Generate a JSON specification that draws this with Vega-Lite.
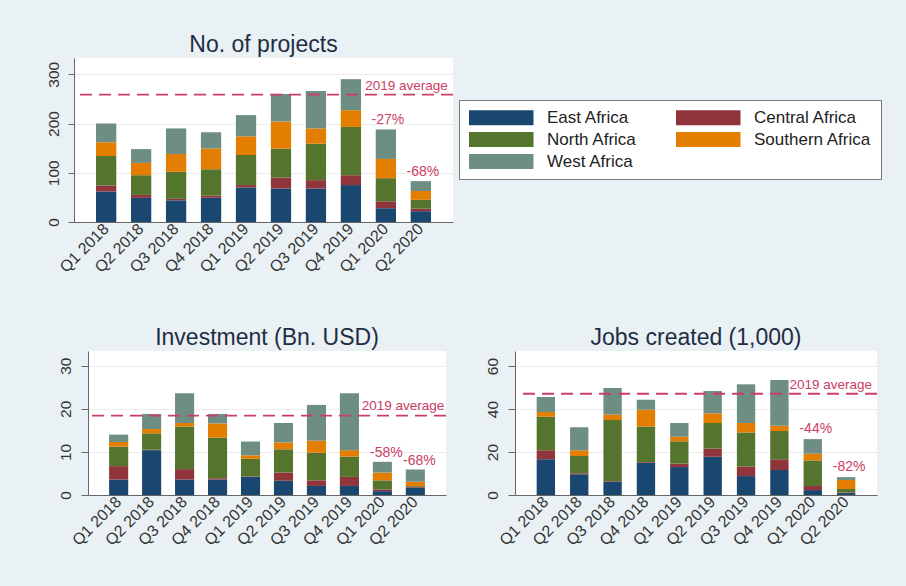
{
  "$schema": "https://vega.github.io/schema/vega-lite/v6.json",
  "background": "#e9f1f4",
  "padding": {"left": 45, "top": 34, "right": 30, "bottom": 40},
  "spacing": 51,
  "config": {
    "font": "Liberation Sans",
    "view": {"fill": "white", "stroke": null},
    "axis": {"labelFont": "Liberation Sans", "labelFontSize": 16, "labelColor": "#333333", "domainColor": "#666666", "tickColor": "#666666", "gridColor": "#ececec"},
    "axisY": {"labelFontSize": 15.5},
    "title": {"fontSize": 23, "fontWeight": "normal", "color": "#1f2d44", "offset": 1, "font": "Liberation Sans"}
  },
  "datasets": {
    "regions": [
      {"q":"Q1 2018","region":"East Africa","projects":62,"investment":3.6,"jobs":16.6},
      {"q":"Q1 2018","region":"Central Africa","projects":12,"investment":3.1,"jobs":4.2},
      {"q":"Q1 2018","region":"North Africa","projects":60,"investment":4.5,"jobs":15.6},
      {"q":"Q1 2018","region":"Southern Africa","projects":28,"investment":1.1,"jobs":2.2},
      {"q":"Q1 2018","region":"West Africa","projects":38,"investment":1.7,"jobs":7.0},
      {"q":"Q2 2018","region":"East Africa","projects":49,"investment":10.4,"jobs":9.6},
      {"q":"Q2 2018","region":"Central Africa","projects":6,"investment":0.1,"jobs":0.5},
      {"q":"Q2 2018","region":"North Africa","projects":40,"investment":3.8,"jobs":8.0},
      {"q":"Q2 2018","region":"Southern Africa","projects":25,"investment":1.0,"jobs":2.7},
      {"q":"Q2 2018","region":"West Africa","projects":28,"investment":3.5,"jobs":10.7},
      {"q":"Q3 2018","region":"East Africa","projects":44,"investment":3.6,"jobs":6.2},
      {"q":"Q3 2018","region":"Central Africa","projects":3,"investment":2.4,"jobs":0.3},
      {"q":"Q3 2018","region":"North Africa","projects":55,"investment":9.9,"jobs":28.4},
      {"q":"Q3 2018","region":"Southern Africa","projects":36,"investment":0.8,"jobs":2.5},
      {"q":"Q3 2018","region":"West Africa","projects":52,"investment":6.9,"jobs":12.4},
      {"q":"Q4 2018","region":"East Africa","projects":49,"investment":3.6,"jobs":15.0},
      {"q":"Q4 2018","region":"Central Africa","projects":5,"investment":0.3,"jobs":0.3},
      {"q":"Q4 2018","region":"North Africa","projects":53,"investment":9.4,"jobs":16.6},
      {"q":"Q4 2018","region":"Southern Africa","projects":42,"investment":3.3,"jobs":7.8},
      {"q":"Q4 2018","region":"West Africa","projects":33,"investment":2.2,"jobs":4.6},
      {"q":"Q1 2019","region":"East Africa","projects":70,"investment":4.2,"jobs":13.0},
      {"q":"Q1 2019","region":"Central Africa","projects":5,"investment":0.1,"jobs":1.6},
      {"q":"Q1 2019","region":"North Africa","projects":61,"investment":4.1,"jobs":10.4},
      {"q":"Q1 2019","region":"Southern Africa","projects":38,"investment":0.8,"jobs":2.1},
      {"q":"Q1 2019","region":"West Africa","projects":43,"investment":3.2,"jobs":6.4},
      {"q":"Q2 2019","region":"East Africa","projects":68,"investment":3.3,"jobs":17.8},
      {"q":"Q2 2019","region":"Central Africa","projects":22,"investment":1.9,"jobs":3.8},
      {"q":"Q2 2019","region":"North Africa","projects":59,"investment":5.4,"jobs":11.9},
      {"q":"Q2 2019","region":"Southern Africa","projects":55,"investment":1.6,"jobs":4.5},
      {"q":"Q2 2019","region":"West Africa","projects":56,"investment":4.5,"jobs":10.4},
      {"q":"Q3 2019","region":"East Africa","projects":68,"investment":2.1,"jobs":8.8},
      {"q":"Q3 2019","region":"Central Africa","projects":17,"investment":1.3,"jobs":4.4},
      {"q":"Q3 2019","region":"North Africa","projects":74,"investment":6.4,"jobs":15.9},
      {"q":"Q3 2019","region":"Southern Africa","projects":31,"investment":2.8,"jobs":4.4},
      {"q":"Q3 2019","region":"West Africa","projects":76,"investment":8.3,"jobs":18.0},
      {"q":"Q4 2019","region":"East Africa","projects":75,"investment":2.1,"jobs":11.6},
      {"q":"Q4 2019","region":"Central Africa","projects":20,"investment":2.1,"jobs":5.0},
      {"q":"Q4 2019","region":"North Africa","projects":98,"investment":4.7,"jobs":13.2},
      {"q":"Q4 2019","region":"Southern Africa","projects":34,"investment":1.5,"jobs":2.4},
      {"q":"Q4 2019","region":"West Africa","projects":63,"investment":13.2,"jobs":21.3},
      {"q":"Q1 2020","region":"East Africa","projects":28,"investment":0.9,"jobs":2.3},
      {"q":"Q1 2020","region":"Central Africa","projects":14,"investment":0.4,"jobs":1.9},
      {"q":"Q1 2020","region":"North Africa","projects":47,"investment":2.1,"jobs":11.9},
      {"q":"Q1 2020","region":"Southern Africa","projects":39,"investment":1.8,"jobs":3.1},
      {"q":"Q1 2020","region":"West Africa","projects":60,"investment":2.5,"jobs":6.8},
      {"q":"Q2 2020","region":"East Africa","projects":22,"investment":1.7,"jobs":0.9},
      {"q":"Q2 2020","region":"Central Africa","projects":5,"investment":0.2,"jobs":0.3},
      {"q":"Q2 2020","region":"North Africa","projects":18,"investment":0.2,"jobs":1.6},
      {"q":"Q2 2020","region":"Southern Africa","projects":18,"investment":1.0,"jobs":4.2},
      {"q":"Q2 2020","region":"West Africa","projects":20,"investment":2.8,"jobs":1.3}
    ],
    "avg": [{"projects": 258.5, "investment": 18.4, "jobs": 47.1}],
    "pct": [
      {"q":"Q1 2020","projects":188,"projects_label":"-27%","investment":7.7,"investment_label":"-58%","jobs":26.0,"jobs_label":"-44%"},
      {"q":"Q2 2020","projects":83,"projects_label":"-68%","investment":5.9,"investment_label":"-68%","jobs":8.3,"jobs_label":"-82%"}
    ]
  },
  "vconcat": [
    {
      "width": 379,
      "height": 164,
      "title": "No. of projects",
      "layer": [
        {
          "data": {"name": "regions"},
          "transform": [{"calculate": "indexof(['East Africa','Central Africa','North Africa','Southern Africa','West Africa'], datum.region)", "as": "stack_order"}],
          "mark": {"type": "bar"},
          "encoding": {
            "x": {"field": "q", "type": "nominal", "title": null,
              "scale": {"domain": ["Q1 2018","Q2 2018","Q3 2018","Q4 2018","Q1 2019","Q2 2019","Q3 2019","Q4 2019","Q1 2020","Q2 2020"], "paddingInner": 0.42, "paddingOuter": 0.63},
              "axis": {"labelAngle": -45, "labelAlign": "right", "labelBaseline": "middle", "ticks": false, "labelPadding": 4, "grid": false}},
            "y": {"field": "projects", "type": "quantitative", "stack": "zero", "title": null,
              "scale": {"domain": [0, 333], "nice": false},
              "axis": {"values": [0, 100, 200, 300], "labelAngle": -90, "tickSize": 6, "labelPadding": 7, "grid": true}},
            "order": {"field": "stack_order", "type": "quantitative"},
            "color": {"field": "region", "type": "nominal",
              "scale": {"domain": ["East Africa","Central Africa","North Africa","Southern Africa","West Africa"], "range": ["#1a476f","#90353b","#55752f","#e37e00","#6e8e84"]},
              "legend": {"orient": "none", "legendX": 385, "legendY": 42, "columns": 2, "direction": "horizontal", "title": null,
                "symbolType": "M-1,-1H7.6V1H-1Z", "symbolSize": 225, "symbolStrokeWidth": 0, "symbolOpacity": 1,
                "labelOffset": 62, "labelFontSize": 17, "labelColor": "#222222", "labelFont": "Liberation Sans", "labelLimit": 200,
                "columnPadding": 38, "rowPadding": 4, "padding": 9, "strokeColor": "#777777", "fillColor": "white"}}
          }
        },
        {
          "data": {"name": "avg"},
          "mark": {"type": "rule", "color": "#cc3d63", "strokeWidth": 1.8, "strokeDash": [12, 7]},
          "encoding": {"y": {"field": "projects", "type": "quantitative"}}
        },
        {
          "data": {"name": "avg"},
          "mark": {"type": "text", "text": "2019 average", "color": "#cc3d63", "fontSize": 13.5, "align": "right", "baseline": "middle", "dx": 27, "dy": -9},
          "encoding": {"x": {"datum": "Q2 2020", "type": "nominal"}, "y": {"field": "projects", "type": "quantitative"}}
        },
        {
          "data": {"name": "pct"},
          "mark": {"type": "text", "color": "#cc3d63", "fontSize": 14, "align": "center", "baseline": "middle", "dx": 2, "dy": -9},
          "encoding": {"x": {"field": "q", "type": "nominal"}, "y": {"field": "projects", "type": "quantitative"}, "text": {"field": "projects_label"}}
        }
      ]
    },
    {
      "spacing": -18,
      "hconcat": [
        {
          "width": 1,
          "height": 1,
          "view": {"fill": null, "stroke": null},
          "data": {"values": []},
          "mark": {"type": "point", "opacity": 0},
          "encoding": {}
        },
        {
          "spacing": 38,
          "hconcat": [
            {
              "width": 358,
              "height": 144,
              "title": "Investment (Bn. USD)",
              "layer": [
                {
                  "data": {"name": "regions"},
                  "transform": [{"calculate": "indexof(['East Africa','Central Africa','North Africa','Southern Africa','West Africa'], datum.region)", "as": "stack_order"}],
                  "mark": {"type": "bar"},
                  "encoding": {
                    "x": {"field": "q", "type": "nominal", "title": null,
                      "scale": {"domain": ["Q1 2018","Q2 2018","Q3 2018","Q4 2018","Q1 2019","Q2 2019","Q3 2019","Q4 2019","Q1 2020","Q2 2020"], "paddingInner": 0.42, "paddingOuter": 0.64},
                      "axis": {"labelAngle": -45, "labelAlign": "right", "labelBaseline": "middle", "ticks": false, "labelPadding": 4, "grid": false}},
                    "y": {"field": "investment", "type": "quantitative", "stack": "zero", "title": null,
                      "scale": {"domain": [0, 33.4], "nice": false},
                      "axis": {"values": [0, 10, 20, 30], "labelAngle": -90, "tickSize": 7, "labelPadding": 8, "grid": true}},
                    "order": {"field": "stack_order", "type": "quantitative"},
                    "color": {"field": "region", "type": "nominal",
                      "scale": {"domain": ["East Africa","Central Africa","North Africa","Southern Africa","West Africa"], "range": ["#1a476f","#90353b","#55752f","#e37e00","#6e8e84"]},
                      "legend": null}
                  }
                },
                {
                  "data": {"name": "avg"},
                  "mark": {"type": "rule", "color": "#cc3d63", "strokeWidth": 1.8, "strokeDash": [12, 7]},
                  "encoding": {"y": {"field": "investment", "type": "quantitative"}}
                },
                {
                  "data": {"name": "avg"},
                  "mark": {"type": "text", "text": "2019 average", "color": "#cc3d63", "fontSize": 13.5, "align": "right", "baseline": "middle", "dx": 29, "dy": -10},
                  "encoding": {"x": {"datum": "Q2 2020", "type": "nominal"}, "y": {"field": "investment", "type": "quantitative"}}
                },
                {
                  "data": {"name": "pct"},
                  "mark": {"type": "text", "color": "#cc3d63", "fontSize": 14, "align": "center", "baseline": "middle", "dx": 4, "dy": -9},
                  "encoding": {"x": {"field": "q", "type": "nominal"}, "y": {"field": "investment", "type": "quantitative"}, "text": {"field": "investment_label"}}
                }
              ]
            },
            {
              "width": 362,
              "height": 144,
              "title": "Jobs created (1,000)",
              "layer": [
                {
                  "data": {"name": "regions"},
                  "transform": [{"calculate": "indexof(['East Africa','Central Africa','North Africa','Southern Africa','West Africa'], datum.region)", "as": "stack_order"}],
                  "mark": {"type": "bar"},
                  "encoding": {
                    "x": {"field": "q", "type": "nominal", "title": null,
                      "scale": {"domain": ["Q1 2018","Q2 2018","Q3 2018","Q4 2018","Q1 2019","Q2 2019","Q3 2019","Q4 2019","Q1 2020","Q2 2020"], "paddingInner": 0.45, "paddingOuter": 0.65},
                      "axis": {"labelAngle": -45, "labelAlign": "right", "labelBaseline": "middle", "ticks": false, "labelPadding": 4, "grid": false}},
                    "y": {"field": "jobs", "type": "quantitative", "stack": "zero", "title": null,
                      "scale": {"domain": [0, 67], "nice": false},
                      "axis": {"values": [0, 20, 40, 60], "labelAngle": -90, "tickSize": 7, "labelPadding": 8, "grid": true}},
                    "order": {"field": "stack_order", "type": "quantitative"},
                    "color": {"field": "region", "type": "nominal",
                      "scale": {"domain": ["East Africa","Central Africa","North Africa","Southern Africa","West Africa"], "range": ["#1a476f","#90353b","#55752f","#e37e00","#6e8e84"]},
                      "legend": null}
                  }
                },
                {
                  "data": {"name": "avg"},
                  "mark": {"type": "rule", "color": "#cc3d63", "strokeWidth": 1.8, "strokeDash": [12, 7]},
                  "encoding": {"y": {"field": "jobs", "type": "quantitative"}}
                },
                {
                  "data": {"name": "avg"},
                  "mark": {"type": "text", "text": "2019 average", "color": "#cc3d63", "fontSize": 13.5, "align": "right", "baseline": "middle", "dx": 26, "dy": -9},
                  "encoding": {"x": {"datum": "Q2 2020", "type": "nominal"}, "y": {"field": "jobs", "type": "quantitative"}}
                },
                {
                  "data": {"name": "pct"},
                  "mark": {"type": "text", "color": "#cc3d63", "fontSize": 14, "align": "center", "baseline": "middle", "dx": 3, "dy": -10},
                  "encoding": {"x": {"field": "q", "type": "nominal"}, "y": {"field": "jobs", "type": "quantitative"}, "text": {"field": "jobs_label"}}
                }
              ]
            }
          ]
        }
      ]
    }
  ],
  "resolve": {"scale": {"x": "independent", "y": "independent"}, "legend": {"color": "independent"}}
}
